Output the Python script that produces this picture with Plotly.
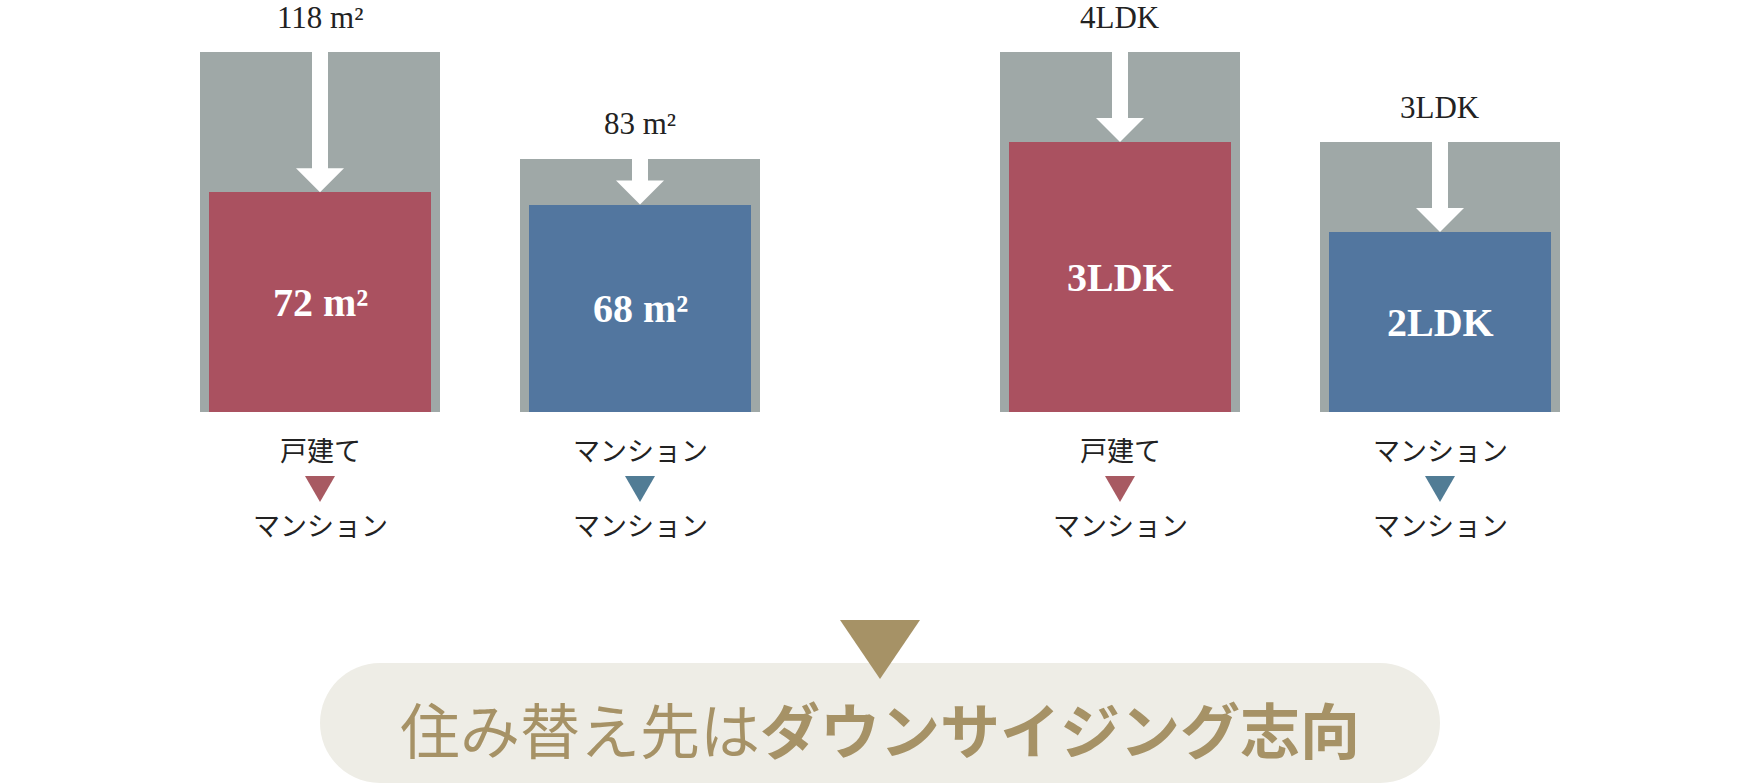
import plotly.graph_objects as go

W, H = 1760, 784

# ---------------- data ----------------
positions = [0, 1]
area_before = [118, 83]
area_after = [72, 68]
area_before_labels = ["118 m²", "83 m²"]
area_after_labels = ["72 m²", "68 m²"]

ldk_before = [4, 3]
ldk_after = [3, 2]
ldk_before_labels = ["4LDK", "3LDK"]
ldk_after_labels = ["3LDK", "2LDK"]

from_types = ["戸建て", "マンション"]
to_types = ["マンション", "マンション"]

conclusion_light = "住み替え先は"
conclusion_bold = "ダウンサイジング志向"

# ---------------- style ----------------
GREY = "#9FA8A7"
after_colors = ["#AA5160", "#52769F"]
tri_colors = ["#A85A62", "#517C95"]
GOLD = "#A69266"
PILL = "#EEEDE6"
TEXT = "#222222"
SERIF = "Liberation Serif, DejaVu Serif, serif"
SANS = "Noto Sans CJK JP, Noto Sans, sans-serif"

PLOT_TOP, PLOT_BOTTOM = 52, 412      # pixel rows of the bar panels
PLOT_H = PLOT_BOTTOM - PLOT_TOP
ydom = [(H - PLOT_BOTTOM) / H, (H - PLOT_TOP) / H]

fig = go.Figure()

panels = [
    dict(xr="x", yr="y", before=area_before, after=area_after,
         bl=area_before_labels, al=area_after_labels),
    dict(xr="x2", yr="y2", before=ldk_before, after=ldk_after,
         bl=ldk_before_labels, al=ldk_after_labels),
]

shapes = []
annotations = []

for p in panels:
    fig.add_trace(go.Bar(x=positions, y=p["before"], width=0.75,
                         marker=dict(color=GREY, line=dict(width=0)),
                         opacity=1, xaxis=p["xr"], yaxis=p["yr"],
                         hoverinfo="skip", showlegend=False))
    fig.add_trace(go.Bar(x=positions, y=p["after"], width=0.695,
                         marker=dict(color=after_colors, line=dict(width=0)),
                         opacity=1, xaxis=p["xr"], yaxis=p["yr"],
                         hoverinfo="skip", showlegend=False))
    ymax = max(p["before"])
    head = 24 * ymax / PLOT_H   # arrow head height in data units
    for i, (b, a) in enumerate(zip(p["before"], p["after"])):
        path = (f"M -8,{b} L 8,{b} L 8,{a + head} L 24,{a + head} "
                f"L 0,{a} L -24,{a + head} L -8,{a + head} Z")
        shapes.append(dict(type="path", xref=p["xr"], yref=p["yr"],
                           xsizemode="pixel", xanchor=positions[i],
                           path=path, fillcolor="white",
                           line=dict(width=0), layer="above"))
        # small triangle between labels (below the panel, so y in paper)
        shapes.append(dict(type="path", xref=p["xr"], yref="paper",
                           xsizemode="pixel", ysizemode="pixel",
                           xanchor=positions[i], yanchor=ydom[0],
                           path="M -15,-64 L 15,-64 L 0,-90 Z",
                           fillcolor=tri_colors[i], line=dict(width=0),
                           layer="above"))
        annotations.append(dict(x=positions[i], y=b, xref=p["xr"], yref=p["yr"],
                                text=p["bl"][i], showarrow=False,
                                yanchor="middle", yshift=35,
                                font=dict(family=SERIF, size=31, color=TEXT)))
        annotations.append(dict(x=positions[i], y=a / 2, xref=p["xr"], yref=p["yr"],
                                text=f"<b>{p['al'][i]}</b>", showarrow=False,
                                yanchor="middle",
                                font=dict(family=SERIF, size=40, color="white")))
        annotations.append(dict(x=positions[i], y=0, xref=p["xr"], yref=p["yr"],
                                text=from_types[i], showarrow=False,
                                yanchor="middle", yshift=-37,
                                font=dict(family=SANS, size=27, color=TEXT)))
        annotations.append(dict(x=positions[i], y=0, xref=p["xr"], yref=p["yr"],
                                text=to_types[i], showarrow=False,
                                yanchor="middle", yshift=-112,
                                font=dict(family=SANS, size=27, color=TEXT)))


def px(x):
    return x / W


def py(y):
    return 1 - y / H


# pill
L, R, T, B, r = 320, 1440, 663, 783, 60
k = 0.5523 * r
pts = [
    ("M", (L + r, T)), ("L", (R - r, T)),
    ("C", (R - r + k, T), (R, T + r - k), (R, T + r)),
    ("C", (R, B - r + k), (R - r + k, B), (R - r, B)),
    ("L", (L + r, B)),
    ("C", (L + r - k, B), (L, B - r + k), (L, B - r)),
    ("C", (L, T + r - k), (L + r - k, T), (L + r, T)),
]
d = ""
for seg in pts:
    cmd = seg[0]
    coords = " ".join(f"{px(a):.5f},{py(b):.5f}" for a, b in seg[1:])
    d += f"{cmd} {coords} "
d += "Z"
shapes.append(dict(type="path", xref="paper", yref="paper", path=d,
                   fillcolor=PILL, line=dict(width=0), layer="above"))
# big triangle
shapes.append(dict(type="path", xref="paper", yref="paper",
                   path=f"M {px(840)},{py(620)} L {px(920)},{py(620)} L {px(880)},{py(679)} Z",
                   fillcolor=GOLD, line=dict(width=0), layer="above"))

annotations.append(dict(x=px(880), y=py(727), xref="paper", yref="paper",
                        text=f"{conclusion_light}<b>{conclusion_bold}</b>",
                        showarrow=False, xanchor="center", yanchor="middle",
                        font=dict(family=SANS, size=60, color=GOLD)))

axis_off = dict(visible=False, showgrid=False, zeroline=False, fixedrange=True)
fig.update_layout(
    width=W, height=H,
    margin=dict(l=0, r=0, t=0, b=0),
    paper_bgcolor="white", plot_bgcolor="white",
    barmode="overlay", bargap=0,
    showlegend=False,
    xaxis=dict(domain=[160 / W, 800 / W], range=[-0.5, 1.5], anchor="y", **axis_off),
    yaxis=dict(domain=ydom, range=[0, max(area_before)], anchor="x", **axis_off),
    xaxis2=dict(domain=[960 / W, 1600 / W], range=[-0.5, 1.5], anchor="y2", **axis_off),
    yaxis2=dict(domain=ydom, range=[0, max(ldk_before)], anchor="x2", **axis_off),
    shapes=shapes,
    annotations=annotations,
)

fig.write_html("out.html", config={"displayModeBar": False},
               post_script="document.body.style.margin='0';document.body.style.overflow='hidden';")
